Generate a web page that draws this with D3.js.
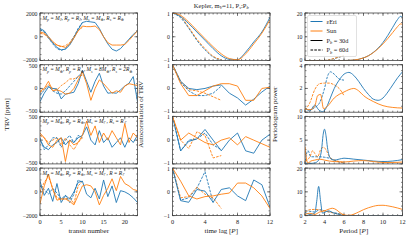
<!DOCTYPE html>
<html>
<head>
<meta charset="utf-8">
<script src="https://cdn.jsdelivr.net/npm/d3@7"></script>
<style>
  body { margin: 0; background: #fff; }
  text { font-family: "Liberation Serif", "DejaVu Serif", serif; fill: #222; }
</style>
</head>
<body>
<script>
// ---- data ----
var transitN = [0,1,2,3,4,5,6,7,8,9,10,11,12,13,14,15,16,17,18,19,20,21,22,23];
var transitShort = [0,1,2,3,4,5,6,7,8,9,10];

// TRV, one array per row (eps Eri = blue, Sun = orange), solid = 30d, dashed = 60d
var trvEriSolid = [
  [700,500,0,-500,-900,-1100,-1050,-700,-100,600,1200,1300,1250,1200,700,0,-600,-1050,-1200,-1000,-600,-200,200,500],
  [-280,-100,30,0,-10,-220,-120,-100,-80,100,380,150,-80,150,320,50,-100,-90,-100,-30,50,110,250,-280],
  [0,-150,-200,-100,-50,50,-100,0,-50,50,100,280,0,-100,200,-50,50,-150,-50,50,-150,50,-50,100],
  [900,-300,300,-800,700,-900,-300,-600,0,800,900,-200,-500,300,-600,1000,-400,500,-900,100,0,-200,-500,-900]
];
var trvSunSolid = [
  [400,300,0,-400,-700,-800,-900,-600,-100,500,900,850,850,900,600,0,-500,-700,-700,-700,-650,-300,100,500],
  [-60,0,150,-50,-30,-60,-120,-100,0,180,350,100,-250,0,180,100,0,-100,-50,-80,50,100,80,60],
  [150,50,-100,-150,0,50,-450,0,-100,-50,100,400,100,300,-50,150,0,200,50,-100,350,-50,150,50],
  [-1000,500,1500,200,-700,-600,-600,-800,-1100,-300,500,600,500,0,-1100,-300,300,1100,100,1300,700,500,200,100]
];
var trvEriDashed = [
  [600,400,-100,-600,-1000,-1150,-1000,-600,0,700,1200],
  [-150,-30,50,-50,-100,-120,-50,50,150,250,350],
  [50,-200,-100,50,50,-150,0,100,-50,100,50],
  [500,200,-200,300,-100,-600,-300,-900,-200,1000,800]
];
var trvSunDashed = [
  [300,200,-100,-500,-700,-850,-750,-500,0,500,800],
  [-80,-20,80,0,-30,60,120,200,200,250,280],
  [100,50,-50,0,50,-100,50,-100,-200,-50,50],
  [0,800,1300,300,-500,-600,-600,-500,-1000,500,900]
];

// autocorrelation
var lagSolid = [0,1,2,3,4,5,6,7,8,9,10,11,12];
var lagDashed = [0,1,2,3,4,5,6];
var acfEriSolid = [
  [1,0.85,0.55,0.2,-0.15,-0.5,-0.8,-0.95,-0.96,-0.65,-0.22,0.2,0.82],
  [1,0.3,0.0,-0.05,0.0,0.1,0.15,-0.2,-0.4,-0.7,-0.45,-0.15,0.1],
  [1,-0.45,-0.05,0.05,0.45,0.0,-0.45,0.0,0.3,-0.45,-0.55,0.0,0.25],
  [1,-0.37,-0.44,0.1,0.03,-0.44,0.1,0.17,-0.17,-0.37,0.5,0.3,-0.65]
];
var acfSunSolid = [
  [1,0.9,0.62,0.27,-0.08,-0.42,-0.72,-0.92,-0.97,-0.72,-0.3,0.15,0.72],
  [1,0.2,-0.3,-0.3,-0.1,0.1,0.2,0.2,0.1,-0.5,-0.5,0.0,0.05],
  [1,0.0,0.3,0.1,-0.1,-0.2,0.0,0.1,-0.2,0.15,0.0,-0.15,-0.3],
  [1,0.45,-0.17,-0.3,-0.2,-0.17,-0.1,-0.05,0.37,0.37,0.17,-0.17,-0.7]
];
var acfEriDashed = [
  [1,0.8,0.35,-0.15,-0.55,-0.85,-0.97],
  [1,0.25,-0.1,-0.3,-0.3,-0.2,0.1],
  [1,-0.45,0.0,0.05,0.3,-0.2,-0.4],
  [1,-0.35,-0.25,0.15,0.85,-0.45]
];
var acfSunDashed = [
  [1,0.85,0.4,-0.1,-0.5,-0.82,-0.97],
  [1,0.3,-0.05,-0.1,-0.2,-0.35,-0.5],
  [1,0.0,-0.35,0.35,0.2,-0.75,-0.65],
  [1,-0.25,-0.2,0.2,-0.1,-0.25,-0.7]
];

// periodograms: [period, power]
var pgEriSolid = [
  [[2,0],[3,0],[4,0],[5,0],[6,0],[6.5,0.05],[7,0.2],[7.5,0.5],[8,1.1],[8.5,2],[9,3.4],[9.5,5.2],[10,7.6],[10.5,10.6],[11,14],[11.5,17.3],[11.8,18.6],[12,18.2]],
  [[2,0.4],[2.5,0.1],[3,0.6],[3.4,0.2],[3.8,0.05],[4.2,0.4],[4.6,1.2],[5,2.0],[5.5,2.7],[6,3.2],[6.5,3.35],[7,3.1],[7.5,2.6],[8,2.0],[8.5,1.5],[9,1.1],[9.5,1.0],[10,1.2],[10.5,1.7],[11,2.3],[11.5,2.9],[12,3.4]],
  [[2,0.2],[2.5,0.1],[3,0.2],[3.4,0.8],[3.7,3.0],[3.85,6],[4,7.3],[4.15,6],[4.3,3.5],[4.6,1.2],[5,0.8],[5.5,1.0],[6,1.2],[7,1.0],[8,0.8],[9,0.6],[10,0.5],[11,0.6],[12,0.9]],
  [[2,1.5],[2.5,0.5],[3,1.0],[3.2,6],[3.4,12.3],[3.6,6],[3.8,1.0],[4.1,1.5],[4.4,2.0],[5,1.0],[5.5,0.5],[6,0],[7,0],[12,0]]
];
var pgSunSolid = [
  [[2,0],[3,0],[4,0],[5,0],[6,0],[6.5,0.05],[7,0.2],[7.5,0.5],[8,1.1],[8.5,2],[9,3.3],[9.5,5],[10,7],[10.5,9.3],[11,11.8],[11.5,14.3],[11.8,15.4],[12,15.2]],
  [[2,0.3],[2.5,0.2],[3,0.5],[3.3,1.4],[3.6,1.5],[3.9,0.3],[4.3,0.5],[5,1.2],[5.5,1.5],[6,1.7],[6.5,1.9],[7,2.0],[7.5,1.8],[8,1.4],[9,0.9],[10,0.55],[11,0.4],[12,0.35]],
  [[2,3.6],[2.15,1.0],[2.3,0.2],[2.6,0.6],[3,0.8],[3.5,1.0],[4,0.8],[4.5,0.6],[5,0.5],[6,0.4],[7,0.6],[8,0.7],[9,0.5],[10,0.3],[11,0.3],[12,0.4]],
  [[2,0.5],[2.5,1.0],[3,0.5],[3.5,1.5],[4,2.0],[4.5,2.8],[4.8,3.1],[5.2,2.5],[5.6,1.2],[6,0.3],[6.5,0.1],[7,0.6],[7.5,1.5],[8,2.5],[8.5,3.3],[9,3.9],[9.5,4.3],[10,4.35],[10.5,4.1],[11,3.7],[11.5,3.2],[12,2.6]]
];
var pgEriDashed = [
  [[2,0],[3,0],[4,0.05],[4.5,0.3],[5,0.8],[5.5,1.4],[6,2.0]],
  [[2,0.3],[2.5,0.2],[3,0.4],[3.5,0.8],[4,2.0],[4.3,3.0],[4.6,3.4],[5,3.2],[5.5,2.8],[6,2.7]],
  [[2,0.5],[2.3,2.8],[2.6,1.5],[3,1.5],[3.5,1.5],[4,1.4],[4.5,1.2],[5,0.8],[5.5,0.4],[6,0.2]],
  [[2,2.0],[2.5,1.8],[3,1.5],[3.5,2.5],[4,2.0],[4.5,1.5],[5,1.2],[5.5,0.8],[6,0.2]]
];
var pgSunDashed = [
  [[2,0],[3,0],[4,0.05],[4.5,0.3],[5,0.9],[5.5,1.5],[6,2.1]],
  [[2,0.2],[2.5,0.8],[3,1.9],[3.5,2.4],[4,2.45],[4.5,2.45],[5,2.3],[5.5,2.0],[6,1.4]],
  [[2,0.5],[2.5,1.5],[2.8,2.8],[3,2.2],[3.3,1.5],[3.6,3.0],[3.9,3.5],[4.2,2.8],[4.5,1.5],[5,0.8],[5.5,0.5],[6,0.3]],
  [[2,1.5],[2.5,2.5],[3,2.6],[3.5,2.4],[4,2.0],[4.5,1.5],[5,1.0],[5.5,0.6],[6,0.3]]
];

var trvRanges = [[-2000,2000],[-500,500],[-500,500],[-2000,2000]];
var trvTicks = [[-2000,0,2000],[-500,0,500],[-500,0,500],[-2000,0,2000]];
var pgRanges = [[0,20],[0,4],[0,10],[0,20]];
var pgTicks = [[0,10,20],[0,2,4],[0,5,10],[0,10,20]];
var pgMinor = [2,0.5,1,2];

// panel labels, [text, subscript] pieces
var panelLabels = [
  [["M","p"],[" = M","J"],[", R","p"],[" = R","J"],[", M","s"],[" = M","\u2295"],[", R","s"],[" = R","\u2295"]],
  [["M","p"],[" = M","\u2295"],[", R","p"],[" = R","\u2295"],[", M","s"],[" = 8M","\u2295"],[", R","s"],[" = 2R","\u2295"]],
  [["M","p"],[" = M","\u2295"],[", R","p"],[" = R","\u2295"],[", M","s"],[" = M","\u263E"],[", R","s"],[" = R","\u263E"]],
  [["M","p"],[" = M","\u2295"],[", R","p"],[" = R","\u2295"],[", M","s"],[" = M","\u263E"],[", R",""],[" = R","\u263E"]]
];

var colEri = "#1f77b4", colSun = "#ff7f0e";

// ---- layout ----
var W = 407, H = 241;
var colX = [40, 172.5, 305];
var pw = 97.5, ph = 47.5;
var rowY = [13, 64.7, 116.4, 168.1];

var svg = d3.select("body").append("svg")
  .attr("width", W).attr("height", H);

// write [text, sub] pieces into a text element, sub lowered by `shift`
function mathText(t, segs, subSize, shift, italicMain) {
  var down = false;
  segs.forEach(function(seg) {
    var m = t.append("tspan").text(seg[0]);
    if (italicMain) m.style("font-style", "italic");
    if (down) { m.attr("dy", -shift); down = false; }
    if (seg[1]) {
      t.append("tspan").attr("dy", shift).style("font-size", subSize + "px")
        .style("font-style", "italic").text(seg[1]);
      down = true;
    }
  });
}

function makePanel(ci, ri, xs, ys, xMajor, xMinor, yMajor, yMinor, yFmt, showX) {
  var g = svg.append("g").attr("transform", "translate(" + colX[ci] + "," + rowY[ri] + ")");
  var cid = "c" + ci + "_" + ri;
  g.append("clipPath").attr("id", cid).append("rect").attr("width", pw).attr("height", ph);
  var ticks = g.append("g").attr("stroke", "#333").attr("stroke-width", 0.6);
  // ticks, inward on all sides
  xMinor.forEach(function(v) {
    var x = xs(v);
    ticks.append("line").attr("x1", x).attr("x2", x).attr("y1", ph).attr("y2", ph - 1.5);
    ticks.append("line").attr("x1", x).attr("x2", x).attr("y1", 0).attr("y2", 1.5);
  });
  xMajor.forEach(function(v) {
    var x = xs(v);
    ticks.append("line").attr("x1", x).attr("x2", x).attr("y1", ph).attr("y2", ph - 3);
    ticks.append("line").attr("x1", x).attr("x2", x).attr("y1", 0).attr("y2", 3);
  });
  yMinor.forEach(function(v) {
    var y = ys(v);
    ticks.append("line").attr("x1", 0).attr("x2", 1.5).attr("y1", y).attr("y2", y);
    ticks.append("line").attr("x1", pw).attr("x2", pw - 1.5).attr("y1", y).attr("y2", y);
  });
  var lo = ys.domain()[0], hi = ys.domain()[1];
  yMajor.forEach(function(v) {
    var y = ys(v);
    ticks.append("line").attr("x1", 0).attr("x2", 3).attr("y1", y).attr("y2", y);
    ticks.append("line").attr("x1", pw).attr("x2", pw - 3).attr("y1", y).attr("y2", y);
    // nudge end labels so neighbouring panels do not collide
    var nudge = v === hi ? 0.8 : (v === lo && !showX ? -0.8 : 0);
    g.append("text").attr("x", -2.5).attr("y", y + nudge).attr("dy", "0.35em")
      .attr("text-anchor", "end").style("font-size", "5.8px").text(yFmt(v));
  });
  if (showX) {
    xMajor.forEach(function(v) {
      g.append("text").attr("x", xs(v)).attr("y", ph + 8)
        .attr("text-anchor", "middle").style("font-size", "6.3px").text(v);
    });
  }
  var plot = g.append("g").attr("clip-path", "url(#" + cid + ")");
  g.append("rect").attr("width", pw).attr("height", ph)
    .attr("fill", "none").attr("stroke", "#444").attr("stroke-width", 0.8);
  return {g: g, plot: plot};
}

function minusFmt(v) { return v < 0 ? "\u2212" + Math.abs(v) : "" + v; }

function drawLine(plot, pts, xs, ys, color, dashed, curve) {
  var line = d3.line().curve(curve || d3.curveLinear)
    .x(function(d) { return xs(d[0]); }).y(function(d) { return ys(d[1]); });
  plot.append("path").datum(pts)
    .attr("fill", "none").attr("stroke", color).attr("stroke-width", 0.9)
    .attr("stroke-linejoin", "round")
    .attr("stroke-dasharray", dashed ? "2.6,1.2" : null)
    .attr("d", line);
}
function zip(xa, ya) { return ya.map(function(v, i) { return [xa[i], v]; }); }

// ---- column 1: TRV ----
var xT = d3.scaleLinear().domain([0, 23]).range([0, pw]);
for (var r = 0; r < 4; r++) {
  var yT = d3.scaleLinear().domain(trvRanges[r]).range([ph, 0]);
  var step = trvRanges[r][1] === 2000 ? 500 : 100;
  var p = makePanel(0, r, xT, yT, [0,5,10,15,20], d3.range(0, 24, 1),
    trvTicks[r], d3.range(trvRanges[r][0], trvRanges[r][1] + 1, step), minusFmt, r === 3);
  drawLine(p.plot, zip(transitShort, trvSunDashed[r]), xT, yT, colSun, true);
  drawLine(p.plot, zip(transitShort, trvEriDashed[r]), xT, yT, colEri, true);
  drawLine(p.plot, zip(transitN, trvEriSolid[r]), xT, yT, colEri, false);
  drawLine(p.plot, zip(transitN, trvSunSolid[r]), xT, yT, colSun, false);
  var lab = p.g.append("text").attr("x", 2.5).attr("y", 6.8).style("font-size", "5.4px");
  mathText(lab, panelLabels[r], 3.9, 1.3, true);
}

// ---- column 2: autocorrelation ----
var xA = d3.scaleLinear().domain([0, 12]).range([0, pw]);
var yA = d3.scaleLinear().domain([-1, 1]).range([ph, 0]);
for (var r = 0; r < 4; r++) {
  var p = makePanel(1, r, xA, yA, [0,4,8,12], d3.range(0, 12.01, 0.5),
    [-1,0,1], d3.range(-1, 1.01, 0.2), minusFmt, r === 3);
  var cv = r === 0 ? d3.curveMonotoneX : d3.curveLinear;
  drawLine(p.plot, zip(lagDashed, acfEriDashed[r]), xA, yA, colEri, true, cv);
  drawLine(p.plot, zip(lagDashed, acfSunDashed[r]), xA, yA, colSun, true, cv);
  drawLine(p.plot, zip(lagSolid, acfEriSolid[r]), xA, yA, colEri, false, cv);
  drawLine(p.plot, zip(lagSolid, acfSunSolid[r]), xA, yA, colSun, false, cv);
}

// ---- column 3: periodogram ----
var xP = d3.scaleLinear().domain([2, 12]).range([0, pw]);
for (var r = 0; r < 4; r++) {
  var yP = d3.scaleLinear().domain(pgRanges[r]).range([ph, 0]);
  var p = makePanel(2, r, xP, yP, [2,4,6,8,10,12], d3.range(2, 12.01, 0.5),
    pgTicks[r], d3.range(0, pgRanges[r][1] + 0.001, pgMinor[r]), minusFmt, r === 3);
  drawLine(p.plot, pgEriDashed[r], xP, yP, colEri, true, d3.curveMonotoneX);
  drawLine(p.plot, pgSunDashed[r], xP, yP, colSun, true, d3.curveMonotoneX);
  drawLine(p.plot, pgEriSolid[r], xP, yP, colEri, false, d3.curveMonotoneX);
  drawLine(p.plot, pgSunSolid[r], xP, yP, colSun, false, d3.curveMonotoneX);
}

// ---- legend ----
var leg = svg.append("g").attr("transform", "translate(" + (colX[2] + 2.5) + "," + (rowY[0] + 2.5) + ")");
leg.append("rect").attr("width", 49).attr("height", 41).attr("rx", 1.5)
  .attr("fill", "#fff").attr("fill-opacity", 0.85).attr("stroke", "#ccc").attr("stroke-width", 0.6);
var legItems = [
  {c: colEri, d: false, t: [["\u03B5Eri", ""]]},
  {c: colSun, d: false, t: [["Sun", ""]]},
  {c: "#000", d: false, t: [["P", "b"], [" = 30d", ""]]},
  {c: "#000", d: true, t: [["P", "b"], [" = 60d", ""]]}
];
legItems.forEach(function(it, i) {
  var y = 6 + i * 9.5;
  leg.append("line").attr("x1", 3).attr("x2", 15).attr("y1", y).attr("y2", y)
    .attr("stroke", it.c).attr("stroke-width", 1)
    .attr("stroke-dasharray", it.d ? "2.6,1.2" : null);
  var t = leg.append("text").attr("x", 19).attr("y", y + 2.2).style("font-size", "6.3px");
  mathText(t, it.t, 4.5, 1.3, false);
});

// ---- titles and axis labels ----
var title = svg.append("text").attr("x", colX[1] + pw / 2).attr("y", 8)
  .attr("text-anchor", "middle").style("font-size", "6.5px");
title.append("tspan").text("Kepler, ");
mathText(title, [["m", "V"], ["=11, ", ""]], 4.6, 1.3, false);
mathText(title, [["P", "s"], [":", ""], ["P", "b"]], 4.6, 1.3, false);

var midY = (rowY[0] + rowY[3] + ph) / 2;
[["TRV [ppm]", 9], ["Autocorrelation of TRV", 143], ["Periodogram power", 277]].forEach(function(l) {
  svg.append("text").attr("transform", "translate(" + l[1] + "," + midY + ") rotate(-90)")
    .attr("text-anchor", "middle").style("font-size", "7px").text(l[0]);
});
var botY = rowY[3] + ph + 17;
[["transit number", 0], ["time lag [", 1], ["Period [", 2]].forEach(function(l) {
  var t = svg.append("text").attr("x", colX[l[1]] + pw / 2).attr("y", botY)
    .attr("text-anchor", "middle").style("font-size", "7px");
  t.append("tspan").text(l[0]);
  if (l[1] > 0) {
    t.append("tspan").style("font-style", "italic").text("P");
    t.append("tspan").text("]");
  }
});
</script>
</body>
</html>
